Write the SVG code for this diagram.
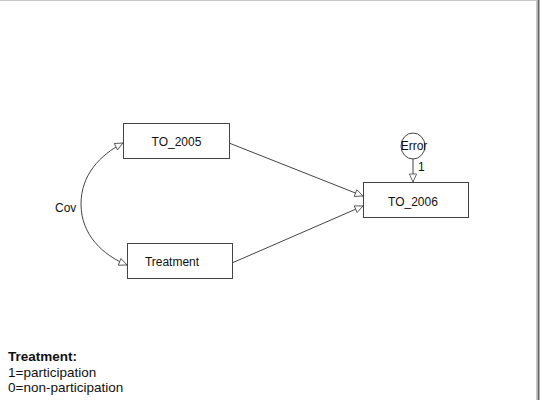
<svg xmlns="http://www.w3.org/2000/svg" width="542" height="400" viewBox="0 0 542 400">
<defs>
<marker id="oa" viewBox="0 0 10 10" refX="10" refY="5" markerWidth="10" markerHeight="8" markerUnits="userSpaceOnUse" orient="auto">
<path d="M0,0.5 L10,5 L0,9.5 Z" fill="#fff" stroke="#444" stroke-width="1"/>
</marker>
</defs>
<style>
.box{fill:#fff;stroke:#444;stroke-width:1}
.t{font-family:"Liberation Sans",Arial,sans-serif;font-size:12px;fill:#111}
.lg{font-family:"Liberation Sans",Arial,sans-serif;font-size:13.5px;fill:#111}
.c{fill:none;stroke:#444;stroke-width:1;marker-end:url(#oa)}
</style>
<rect width="542" height="400" fill="#fff"/>
<line x1="0" y1="0.5" x2="537" y2="0.5" stroke="#c8c8c8" stroke-width="1"/>
<line x1="536.5" y1="0" x2="536.5" y2="400" stroke="#c8c8c8" stroke-width="1"/>
<line x1="538.5" y1="0" x2="538.5" y2="400" stroke="#666" stroke-width="2"/>
<g id="connectors">
<line class="c" x1="229" y1="143" x2="363" y2="196"/>
<line class="c" x1="232" y1="263" x2="363" y2="206"/>
<line class="c" x1="413" y1="159" x2="413" y2="182"/>
<path class="c" d="M81,204 C81,175 100,155 123,143"/>
<path class="c" d="M81,204 C81,235 103,255 127,265"/>
<text class="t" x="55" y="212">Cov</text>
<text class="t" x="418" y="171">1</text>
</g>
<g id="TO_2005">
<rect class="box" x="123.5" y="123.5" width="106" height="35"/>
<text class="t" x="176.5" y="146" text-anchor="middle">TO_2005</text>
</g>
<g id="Treatment">
<rect class="box" x="127.5" y="243.5" width="105" height="35"/>
<text class="t" x="172" y="266" text-anchor="middle">Treatment</text>
</g>
<g id="TO_2006">
<rect class="box" x="363.5" y="182.5" width="105" height="35"/>
<text class="t" x="413" y="206" text-anchor="middle">TO_2006</text>
</g>
<g id="Error">
<ellipse class="box" cx="413" cy="146" rx="12" ry="13"/>
<text class="t" x="414" y="150" text-anchor="middle">Error</text>
</g>
<g id="legend">
<text class="lg" x="8" y="361" font-weight="bold" font-size="14px">Treatment:</text>
<text class="lg" x="8" y="377">1=participation</text>
<text class="lg" x="8" y="392">0=non-participation</text>
</g>
</svg>
